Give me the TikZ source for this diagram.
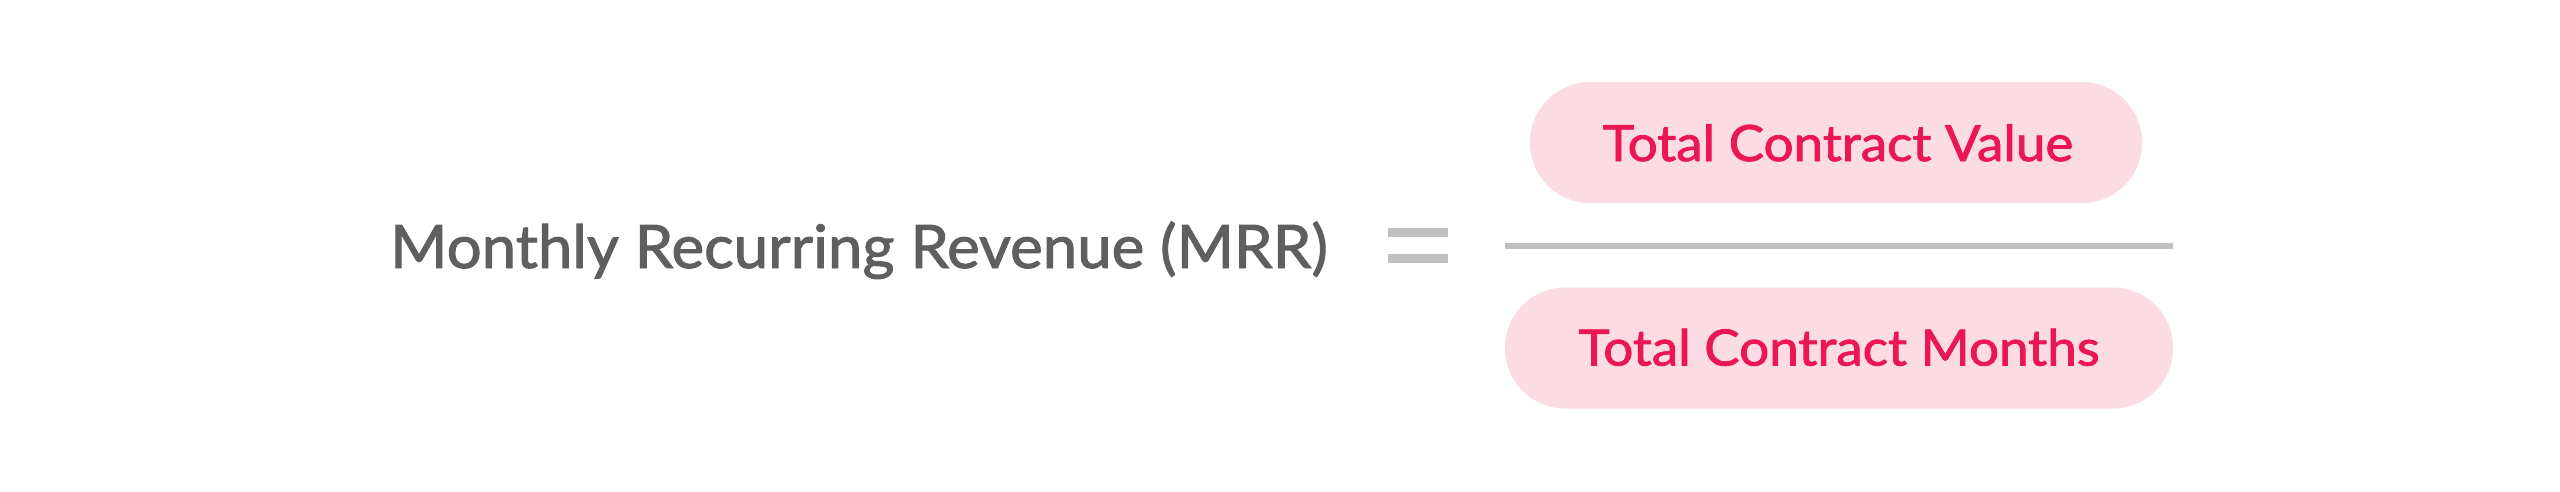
\documentclass[tikz,border=0pt]{standalone}
\usepackage{fontspec}
\setmainfont{Lato}
\newfontface\medlato{Lato}[FakeBold=1.6]
\definecolor{pinktxt}{HTML}{EA1752}
\definecolor{pinkfill}{HTML}{FCDCE3}
\definecolor{graytxt}{HTML}{5F5F5F}
\definecolor{rulegray}{HTML}{C0C0C0}
\begin{document}
\begin{tikzpicture}[x=1pt,y=-1pt,
  pill/.style={fill=pinkfill, rounded corners=60pt, inner sep=0pt, minimum height=121pt},
  pilltext/.style={anchor=base, inner sep=0pt, text=pinktxt, font=\medlato\fontsize{50}{60}\selectfont},
  eqbar/.style={fill=rulegray, inner sep=0pt, minimum width=60pt, minimum height=9pt},
  lefttext/.style={anchor=base west, inner sep=0pt, text=graytxt, font=\medlato\fontsize{60}{72}\selectfont}]
\useasboundingbox (0,0) rectangle (2560,491);
\fill[white] (0,0) rectangle (2560,491);
% left label
\node[lefttext] (mrr) at (390,268) {\scalebox{1.03}[1]{Monthly Recurring Revenue (MRR)}};
% equals sign
\node[eqbar] (eqTop) at (1418,232.5) {};
\node[eqbar] (eqBot) at (1418,258) {};
% numerator
\node[pill, minimum width=612pt] (topPill) at (1836,142.5) {};
\node[pilltext] (numText) at (1838,161) {\scalebox{1.06}[1]{Total Contract Value}};
% fraction line
\coordinate (fracL) at (1505,245.5);
\coordinate (fracR) at (2173,245.5);
\draw[line width=6pt, rulegray] (fracL) -- (fracR);
% denominator
\node[pill, minimum width=668pt] (botPill) at (1839,348) {};
\node[pilltext] (denText) at (1839,365.5) {\scalebox{1.06}[1]{Total Contract Months}};
\end{tikzpicture}
\end{document}
